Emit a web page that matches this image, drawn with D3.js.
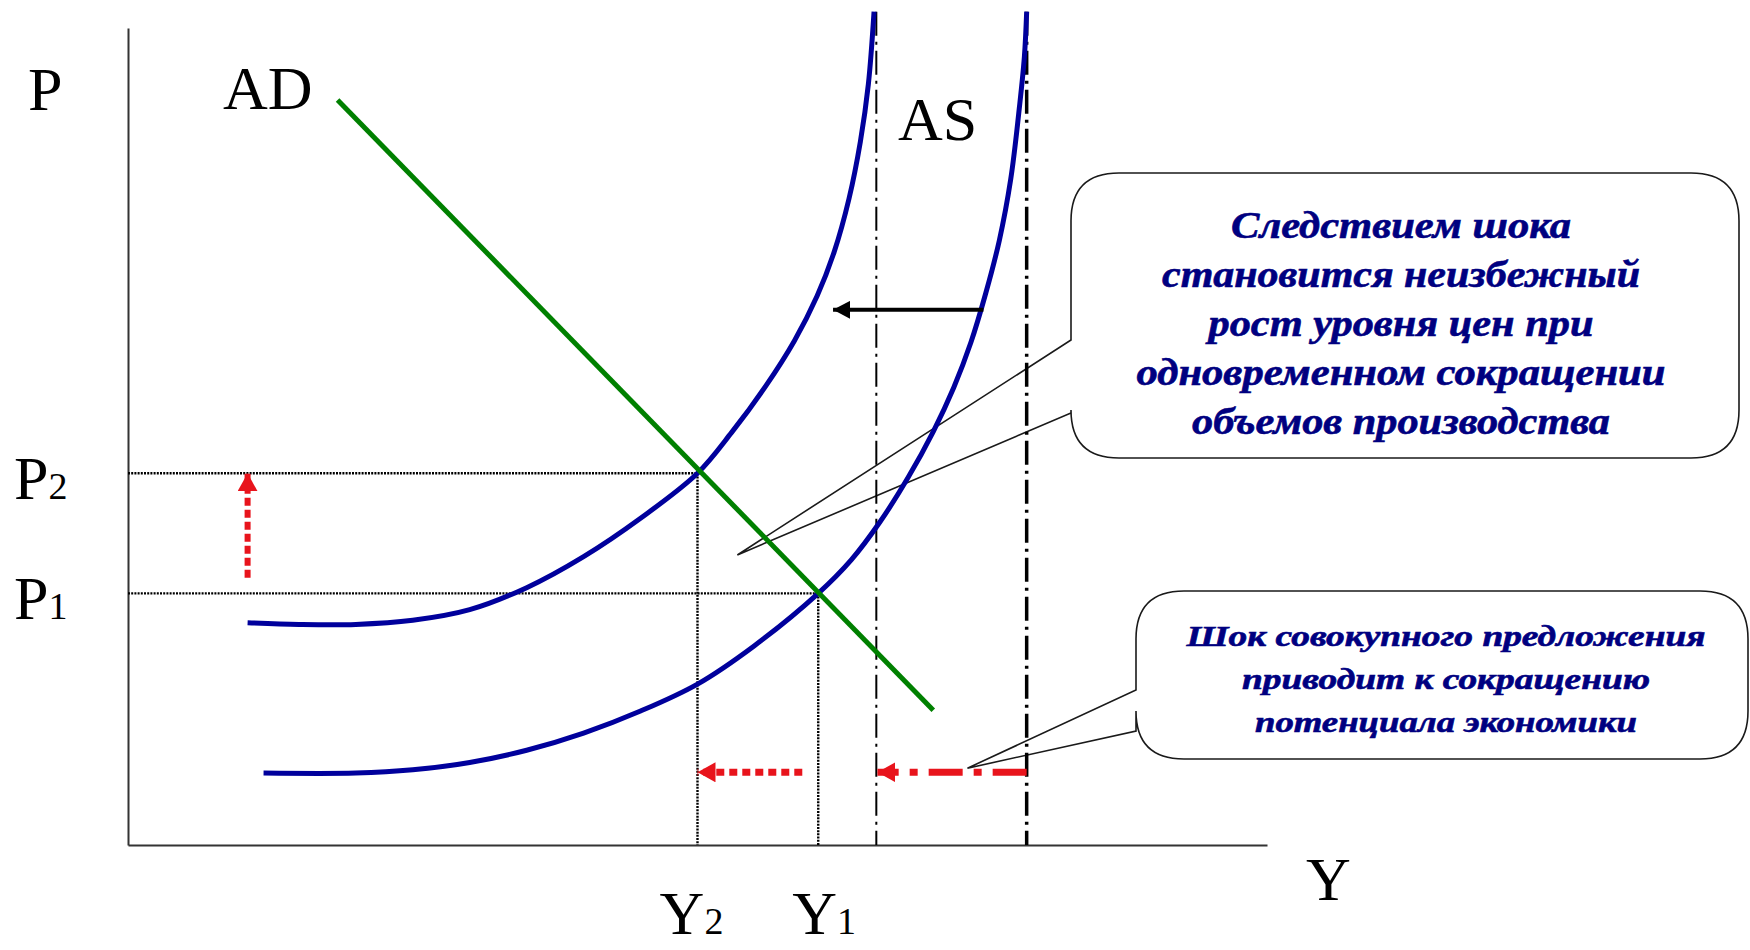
<!DOCTYPE html>
<html>
<head>
<meta charset="utf-8">
<script src="https://cdnjs.cloudflare.com/ajax/libs/d3/7.8.5/d3.min.js"></script>
<style>
  body { margin: 0; background: #fff; }
  svg { display: block; }
</style>
</head>
<body>
<div id="chart"></div>
<script>
"use strict";

// Supply shock: AS curve moves left, price level rises, output falls.
// All values are in abstract units (output 0..100, price 0..100).

var asInitial = [
  [11.9, 8.8], [20.0, 8.8], [25.0, 9.2], [30.0, 10.1], [35.0, 11.6],
  [40.0, 13.7], [45.0, 16.4], [50.0, 19.7], [55.0, 24.4], [60.6, 30.8],
  [63.5, 34.9], [66.0, 39.5], [68.5, 45.0], [70.7, 50.6], [72.5, 56.0],
  [74.0, 61.5], [75.3, 67.5], [76.5, 74.0], [77.5, 81.5], [78.2, 89.5],
  [78.7, 96.5], [78.9, 102.0]
];

var asShifted = [
  [10.5, 27.2], [15.0, 27.0], [20.0, 27.0], [25.0, 27.5], [30.0, 28.8],
  [35.0, 31.5], [40.0, 35.3], [45.0, 40.0], [50.0, 45.5], [53.0, 50.5],
  [56.0, 56.2], [58.5, 61.7], [60.5, 67.2], [62.0, 72.6], [63.3, 79.1],
  [64.3, 86.1], [65.0, 93.1], [65.5, 102.0]
];

var adLine = [[18.4, 91.2], [70.7, 16.5]];

var priceLevels = [30.8, 45.5];        // P1, P2
var priceLabels = ['1', '2'];
var outputLevels = [60.6, 50.0];       // Y1, Y2
var outputLabels = ['1', '2'];
var potentialLevels = [65.7, 78.9];    // long-run output, after and before
var potentialWidths = [2, 3.5];
var lineTop = 102;

// arrows: [fromX, fromY, toX, toY]
var priceArrow = [10.5, 32.7, 10.5, 45.5];
var outputArrow = [59.2, 8.9, 50.0, 8.9];
var potentialArrow = [78.9, 8.9, 65.8, 8.9];
var shiftArrow = [75.1, 65.5, 61.9, 65.5];

var calloutTop = [
  'Следствием шока',
  'становится неизбежный',
  'рост уровня цен при',
  'одновременном сокращении',
  'объемов производства'
];
var calloutTopWidths = [340, 478, 385, 529, 418];
var calloutTopTip = [53.5, 35.5];

var calloutBottom = [
  'Шок совокупного предложения',
  'приводит к сокращению',
  'потенциала экономики'
];
var calloutBottomWidths = [519, 408, 382];
var calloutBottomTip = [73.7, 9.4];

(function() {

  var width = 1750, height = 950;
  var serif = '"Liberation Serif", "Times New Roman", serif';
  var blue = '#00009c', green = '#008000', red = '#e8141c', navy = '#000080';

  var svg = d3.select('#chart').append('svg')
    .attr('width', width)
    .attr('height', height);

  var x = d3.scaleLinear().domain([0, 100]).range([128, 1267]);
  var y = d3.scaleLinear().domain([0, 100]).range([845, 28]);

  var defs = svg.append('defs');

  var addMarker = function(id, color, len, half) {
    defs.append('marker')
      .attr('id', id)
      .attr('markerUnits', 'userSpaceOnUse')
      .attr('viewBox', '0 ' + (-half) + ' ' + len + ' ' + (half * 2))
      .attr('refX', len)
      .attr('refY', 0)
      .attr('markerWidth', len)
      .attr('markerHeight', half * 2)
      .attr('orient', 'auto')
      .append('path')
      .attr('d', 'M0,' + (-half) + 'L' + len + ',0L0,' + half + 'Z')
      .attr('fill', color);
  };
  addMarker('head-red', red, 18, 10);
  addMarker('head-black', '#000', 17, 9);

  var callout = function(box, tailY0, tailY1, tip, lines, widths, fontSize, baselines, cx) {
    var r = 48;
    var x0 = box[0], y0 = box[1], x1 = box[2], y1 = box[3];
    var d = 'M' + (x0 + r) + ',' + y0 +
      'H' + (x1 - r) +
      'Q' + x1 + ',' + y0 + ' ' + x1 + ',' + (y0 + r) +
      'V' + (y1 - r) +
      'Q' + x1 + ',' + y1 + ' ' + (x1 - r) + ',' + y1 +
      'H' + (x0 + r) +
      'Q' + x0 + ',' + y1 + ' ' + x0 + ',' + (y1 - r) +
      'V' + tailY1 +
      'L' + x(tip[0]) + ',' + y(tip[1]) +
      'L' + x0 + ',' + tailY0 +
      'V' + (y0 + r) +
      'Q' + x0 + ',' + y0 + ' ' + (x0 + r) + ',' + y0 + 'Z';
    var g = svg.append('g');
    g.append('path')
      .attr('d', d)
      .attr('fill', '#fff')
      .attr('stroke', '#1a1a1a')
      .attr('stroke-width', 1.6);
    g.selectAll('text').data(lines).enter().append('text')
      .attr('x', cx)
      .attr('y', function(d, i) { return baselines[i]; })
      .attr('text-anchor', 'middle')
      .attr('textLength', function(d, i) { return widths[i]; })
      .attr('lengthAdjust', 'spacingAndGlyphs')
      .attr('font-family', serif)
      .attr('font-style', 'italic')
      .attr('font-weight', 'bold')
      .attr('font-size', fontSize)
      .attr('fill', navy)
      .attr('stroke', navy)
      .attr('stroke-width', 0.6)
      .text(function(d) { return d; });
  };

  // callouts go underneath so the curves stay visible through the tails
  callout([1071, 173, 1739, 458], 340, 413, calloutTopTip,
    calloutTop, calloutTopWidths, 37, [238, 287, 336, 385, 434], 1401);
  callout([1136, 591, 1748, 759], 690, 731, calloutBottomTip,
    calloutBottom, calloutBottomWidths, 29, [646, 689, 732], 1446);

  // axes without ticks
  svg.append('g')
    .attr('transform', 'translate(' + x(0) + ',0)')
    .call(d3.axisLeft(y).ticks(0).tickSizeOuter(0))
    .select('.domain').attr('stroke', '#333').attr('stroke-width', 2);
  svg.append('g')
    .attr('transform', 'translate(0,' + y(0) + ')')
    .call(d3.axisBottom(x).ticks(0).tickSizeOuter(0))
    .select('.domain').attr('stroke', '#333').attr('stroke-width', 2);

  // equilibrium guide lines
  var dotted = function(x1, y1, x2, y2) {
    svg.append('line')
      .attr('x1', x1).attr('y1', y1).attr('x2', x2).attr('y2', y2)
      .attr('stroke', '#000')
      .attr('stroke-width', 2.4)
      .attr('stroke-dasharray', '2,1.2');
  };
  priceLevels.forEach(function(p, i) {
    dotted(x(0), y(p), x(outputLevels[i]), y(p));
    dotted(x(outputLevels[i]), y(p), x(outputLevels[i]), y(0));
  });

  // long-run potential output
  potentialLevels.forEach(function(v, i) {
    svg.append('line')
      .attr('x1', x(v)).attr('y1', y(lineTop))
      .attr('x2', x(v)).attr('y2', y(0))
      .attr('stroke', '#000')
      .attr('stroke-width', potentialWidths[i])
      .attr('stroke-dasharray', '24,6,3,6');
  });

  var curve = d3.line()
    .x(function(d) { return x(d[0]); })
    .y(function(d) { return y(d[1]); })
    .curve(d3.curveCatmullRom.alpha(0.5));

  [asInitial, asShifted].forEach(function(pts) {
    svg.append('path')
      .attr('d', curve(pts))
      .attr('fill', 'none')
      .attr('stroke', blue)
      .attr('stroke-width', 5);
  });

  svg.append('path')
    .attr('d', d3.line().x(function(d) { return x(d[0]); }).y(function(d) { return y(d[1]); })(adLine))
    .attr('fill', 'none')
    .attr('stroke', green)
    .attr('stroke-width', 5);

  var arrow = function(a, color, w, dash, marker) {
    svg.append('line')
      .attr('x1', x(a[0])).attr('y1', y(a[1]))
      .attr('x2', x(a[2])).attr('y2', y(a[3]))
      .attr('stroke', color)
      .attr('stroke-width', w)
      .attr('stroke-dasharray', dash)
      .attr('marker-end', 'url(#' + marker + ')');
  };
  arrow(priceArrow, red, 6, '8,4', 'head-red');
  arrow(outputArrow, red, 7, '8,5', 'head-red');
  arrow(potentialArrow, red, 7, '34,11,8,11', 'head-red');
  arrow(shiftArrow, '#000', 4, null, 'head-black');

  // labels
  var label = function(px, py, main, sub, anchor) {
    var t = svg.append('text')
      .attr('x', px).attr('y', py)
      .attr('text-anchor', anchor || 'start')
      .attr('font-family', serif)
      .attr('font-size', 62)
      .attr('fill', '#000')
      .text(main);
    if(sub) t.append('tspan').attr('font-size', 38).text(sub);
  };

  label(28, 110, 'P');
  label(223, 109, 'AD');
  label(898, 140, 'AS');
  label(1306, 900, 'Y');

  var outputOffsets = [6, -6];
  priceLevels.forEach(function(p, i) {
    label(14, y(p) + 26, 'P', priceLabels[i]);
  });
  outputLevels.forEach(function(v, i) {
    label(x(v) + outputOffsets[i], 934, 'Y', outputLabels[i], 'middle');
  });

}());
</script>
</body>
</html>
